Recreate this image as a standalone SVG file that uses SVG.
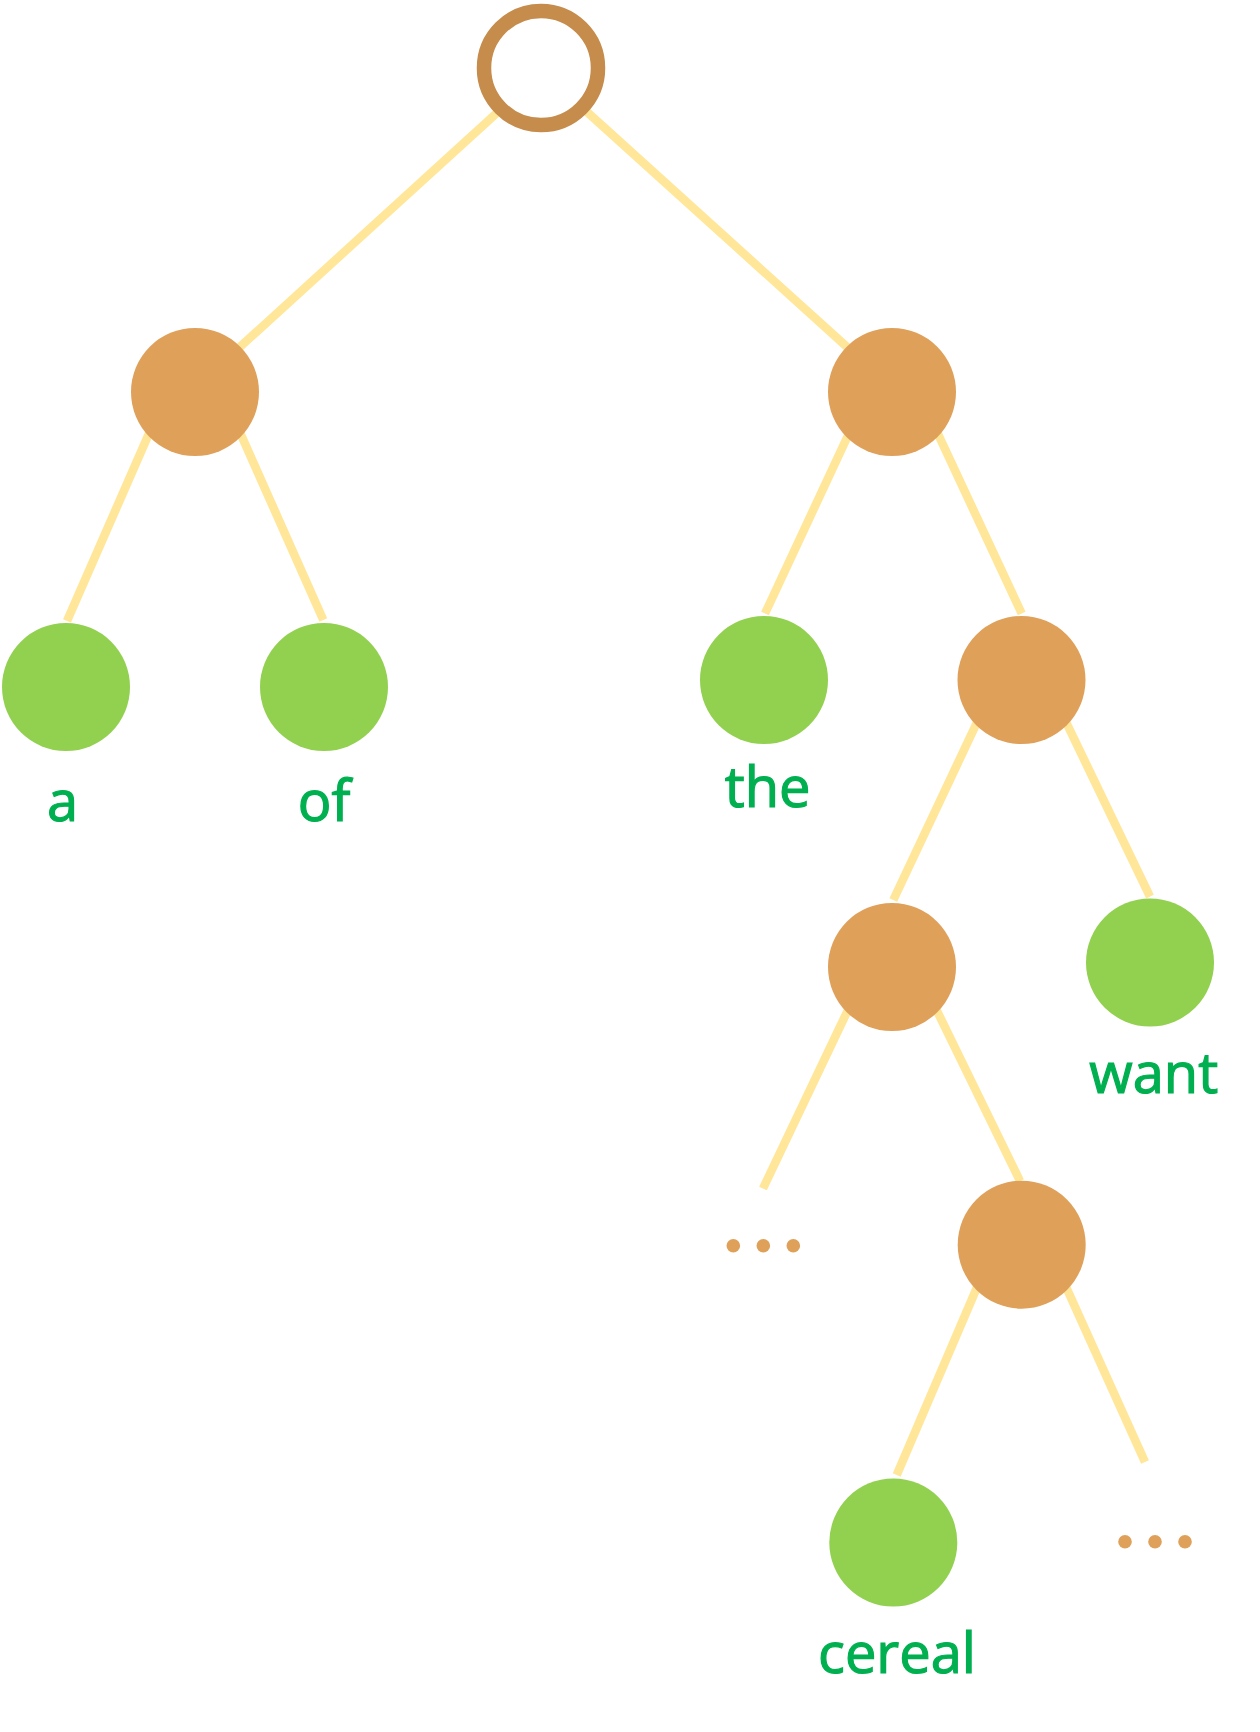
<svg xmlns="http://www.w3.org/2000/svg" width="1260" height="1732" viewBox="0 0 1260 1732">
<style>
.edge{stroke:#FFE699;stroke-width:8.5;stroke-linecap:butt;fill:none}
.inner{fill:#DFA05A}
.leaf{fill:#92D050}
.root{fill:#FFFFFF;stroke:#C58C4C;stroke-width:14.5}
.dot{fill:#DFA05A}
.lbl{font-family:"Open Sans","Noto Sans",sans-serif;font-size:56px;fill:#00B050;stroke:#00B050;stroke-width:1.2;text-anchor:middle}
</style>
<rect width="1260" height="1732" fill="#FFFFFF"/>
<g id="connectors">
<line class="edge" x1="510" y1="101" x2="230" y2="356"/>
<line class="edge" x1="576" y1="102" x2="857" y2="356"/>
<line class="edge" x1="152.7" y1="425" x2="67" y2="621"/>
<line class="edge" x1="236.7" y1="425" x2="323.3" y2="620"/>
<line class="edge" x1="852.9" y1="425" x2="765" y2="613.5"/>
<line class="edge" x1="933.8" y1="425" x2="1021.7" y2="613.5"/>
<line class="edge" x1="981.9" y1="712" x2="893.3" y2="900"/>
<line class="edge" x1="1061.2" y1="712" x2="1150" y2="896.7"/>
<line class="edge" x1="852.7" y1="1000" x2="763" y2="1188.5"/>
<line class="edge" x1="931.7" y1="1000" x2="1020" y2="1181"/>
<line class="edge" x1="981" y1="1278" x2="896.7" y2="1475"/>
<line class="edge" x1="1062" y1="1278" x2="1145" y2="1462"/>
</g>
<g id="root"><circle class="root" cx="541" cy="68" r="57"/></g>
<g id="nodeL"><circle class="inner" cx="195" cy="392" r="64"/></g>
<g id="nodeR"><circle class="inner" cx="892" cy="392" r="64"/></g>
<g id="leaf-a"><circle class="leaf" cx="66" cy="687" r="64"/><text class="lbl" x="62.5" y="820.7">a</text></g>
<g id="leaf-of"><circle class="leaf" cx="324" cy="687" r="64"/><text class="lbl" x="324" y="820.7">of</text></g>
<g id="leaf-the"><circle class="leaf" cx="764" cy="680" r="64"/><text class="lbl" x="767.7" y="806.7">the</text></g>
<g id="nodeRR"><circle class="inner" cx="1021.5" cy="680" r="64"/></g>
<g id="nodeRRL"><circle class="inner" cx="892" cy="967" r="64"/></g>
<g id="leaf-want"><circle class="leaf" cx="1150" cy="962.5" r="64"/><text class="lbl" x="1153.7" y="1093.3">want</text></g>
<g id="ellipsis-left"><circle class="dot" cx="733.3" cy="1245.7" r="6.8"/><circle class="dot" cx="763.3" cy="1245.7" r="6.8"/><circle class="dot" cx="793.3" cy="1245.7" r="6.8"/></g>
<g id="nodeRRLR"><circle class="inner" cx="1021.7" cy="1244.7" r="64"/></g>
<g id="leaf-cereal"><circle class="leaf" cx="893.3" cy="1542.5" r="64"/><text class="lbl" x="897" y="1673.3">cereal</text></g>
<g id="ellipsis-right"><circle class="dot" cx="1125" cy="1541.7" r="6.8"/><circle class="dot" cx="1155" cy="1541.7" r="6.8"/><circle class="dot" cx="1185" cy="1541.7" r="6.8"/></g>
</svg>
